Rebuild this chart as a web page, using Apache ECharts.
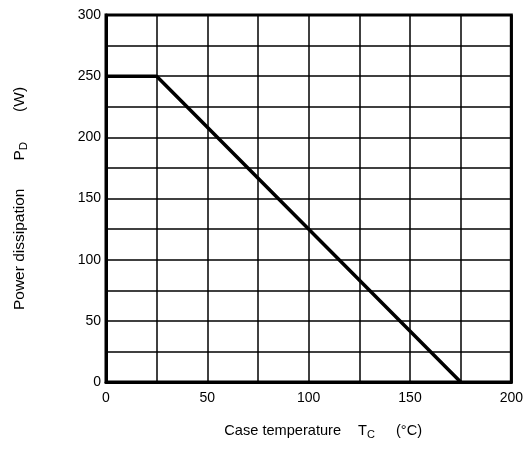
<!DOCTYPE html>
<html>
<head>
<meta charset="utf-8">
<script src="https://cdn.jsdelivr.net/npm/echarts@6/dist/echarts.min.js"></script>
<style>html,body{margin:0;padding:0;background:#fff}#c{width:526px;height:450px}</style>
</head>
<body>
<div id="c"></div>
<script>
var temps = [0, 25, 175];
var power = [250, 250, 0];
var xTicks = [0, 50, 100, 150, 200];
var yTicks = [0, 50, 100, 150, 200, 250, 300];

var chart = echarts.init(document.getElementById('c'), null, {renderer: 'canvas'});
var font = 'Liberation Sans, Arial, sans-serif';
chart.setOption({
  animation: false,
  backgroundColor: '#fff',
  grid: {left: 106, right: 14, top: 15, bottom: 68, show: true, borderColor: '#000', borderWidth: 3, backgroundColor: 'transparent'},
  xAxis: {
    type: 'value', min: 0, max: 200, interval: 25,
    axisLine: {show: true, lineStyle: {color: '#000', width: 3}},
    axisTick: {show: false},
    splitLine: {show: true, lineStyle: {color: '#000', width: 1.5}},
    axisLabel: {color: '#000', fontFamily: font, fontSize: 14, margin: 9,
      formatter: function (v) { return xTicks.indexOf(v) >= 0 ? String(v) : ''; }},
    name: '{a|Case temperature}{b|T}{s|C}{c|(°C)}',
    nameLocation: 'middle', nameGap: 39,
    nameTextStyle: {padding: [0, 0, 0, 29], rich: {
      a: {fontFamily: font, fontSize: 14.6, color: '#000'},
      b: {fontFamily: font, fontSize: 14.6, color: '#000', padding: [0, 0, 0, 17]},
      c: {fontFamily: font, fontSize: 14.6, color: '#000', padding: [0, 0, 0, 21]},
      s: {fontFamily: font, fontSize: 11, color: '#000', padding: [8, 0, 0, 0]}}}
  },
  yAxis: {
    type: 'value', min: 0, max: 300, interval: 25,
    axisLine: {show: true, lineStyle: {color: '#000', width: 3}},
    axisTick: {show: false},
    splitLine: {show: true, lineStyle: {color: '#000', width: 1.5}},
    axisLabel: {color: '#000', fontFamily: font, fontSize: 14, margin: 5,
      formatter: function (v) { return yTicks.indexOf(v) >= 0 ? String(v) : ''; }},
    name: '{a|Power dissipation}{b|P}{s|D}{c|(W)}',
    nameLocation: 'middle', nameGap: 76,
    nameTextStyle: {rich: {
      a: {fontFamily: font, fontSize: 15.5, color: '#000'},
      b: {fontFamily: font, fontSize: 15.5, color: '#000', padding: [0, 0, 0, 28]},
      c: {fontFamily: font, fontSize: 15.5, color: '#000', padding: [0, 0, 0, 30]},
      s: {fontFamily: font, fontSize: 11.5, color: '#000', padding: [8, 0, 0, 0]}}}
  },
  series: [{
    type: 'line',
    data: temps.map(function (t, i) { return [t, power[i]]; }),
    showSymbol: false, symbol: 'none',
    lineStyle: {color: '#000', width: 3.5},
    z: 5
  }]
});
</script>
</body>
</html>
